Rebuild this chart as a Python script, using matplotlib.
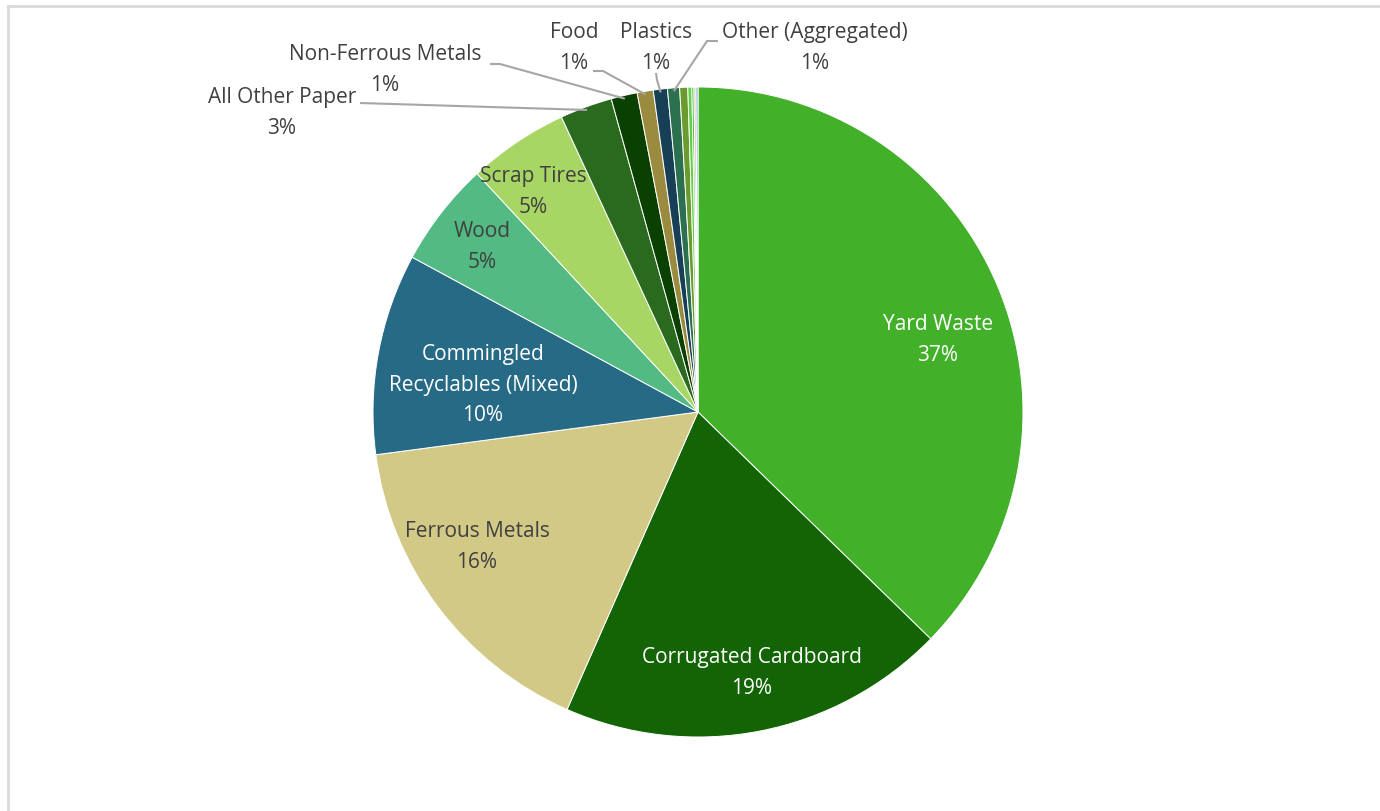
import matplotlib
matplotlib.use("Agg")
import matplotlib.pyplot as plt
import numpy as np

# data (percent of total tonnage)
categories = ["Yard Waste", "Corrugated Cardboard", "Ferrous Metals",
              "Commingled\nRecyclables (Mixed)", "Wood", "Scrap Tires",
              "All Other Paper", "Non-Ferrous Metals", "Food", "Plastics",
              "Other (Aggregated)", "Minor 1", "Minor 2", "Minor 3", "Minor 4", "Minor 5"]
shares = [37.3, 19.3, 16.3, 10.0, 5.2, 5.0, 2.6, 1.3, 0.8, 0.7, 0.6, 0.4, 0.2, 0.1, 0.1, 0.1]
pct_labels = ["37%", "19%", "16%", "10%", "5%", "5%", "3%", "1%", "1%", "1%", "1%",
              None, None, None, None, None]

colors = ["#43b02a", "#136404", "#d3c987", "#266a86", "#52ba82", "#a8d664",
          "#2a6a1e", "#0a4000", "#9a8b3e", "#173f55", "#2b7150",
          "#6b9a2e", "#5fd045", "#22b022", "#d0c080", "#7ab0d8"]

W, H = 1380, 811
CX, CY, R = 698, 412, 325
TXT = "#404040"


def py(y):
    # pixel row (top-down) -> axes y (bottom-up)
    return H - y


# interior label anchor (pixel coords) and text colour
inside = {
    0: ((938, 340), "white"),
    1: ((752, 673), "white"),
    2: ((477, 547), TXT),
    3: ((483, 385), "white"),
    4: ((482, 247), TXT),
    5: ((533, 192), TXT),
}
# outside labels: text centre, elbow points of the leader line
outside = {
    6: ((282, 113), [(360, 103)]),
    7: ((385, 70), [(490, 64), (500, 64)]),
    8: ((574, 48), [(593, 71), (603, 71)]),
    9: ((656, 48), [(656, 73), (657, 80)]),
    10: ((815, 48), [(718, 41), (707, 41)]),
}

plt.rcParams['font.family'] = ['Open Sans', 'DejaVu Sans']
fig = plt.figure(figsize=(W / 100, H / 100), dpi=100)
ax = fig.add_axes([0, 0, 1, 1])

wedges, _ = ax.pie(shares, colors=colors, startangle=90, counterclock=False,
                   center=(CX, py(CY)), radius=R, frame=True,
                   wedgeprops=dict(edgecolor="white", linewidth=0.7))
ax.set_xlim(0, W)
ax.set_ylim(0, H)
ax.set_aspect("equal")
ax.axis("off")

fs = 15
ls = 1.6
for i, ((x, y), col) in inside.items():
    ax.text(x, py(y), categories[i] + "\n" + pct_labels[i], color=col, fontsize=fs,
            ha="center", va="center", linespacing=ls)

for i, ((x, y), elbow) in outside.items():
    ax.text(x, py(y), categories[i] + "\n" + pct_labels[i], color=TXT, fontsize=fs,
            ha="center", va="center", linespacing=ls)
    w = wedges[i]
    mid = np.deg2rad((w.theta1 + w.theta2) / 2)
    ex = CX + R * 0.99 * np.cos(mid)
    ey = py(CY) + R * 0.99 * np.sin(mid)
    xs = [p[0] for p in elbow] + [ex]
    ys = [py(p[1]) for p in elbow] + [ey]
    ax.plot(xs, ys, color="#a6a6a6", lw=1.5, solid_capstyle="butt")

# chart frame (cropped screenshot)
ax.plot([8, 8], [0, py(6)], color="#d9d9d9", lw=2)
ax.plot([8, W], [py(6), py(6)], color="#d9d9d9", lw=2)

fig.savefig("out.png", dpi=100, facecolor="white")
